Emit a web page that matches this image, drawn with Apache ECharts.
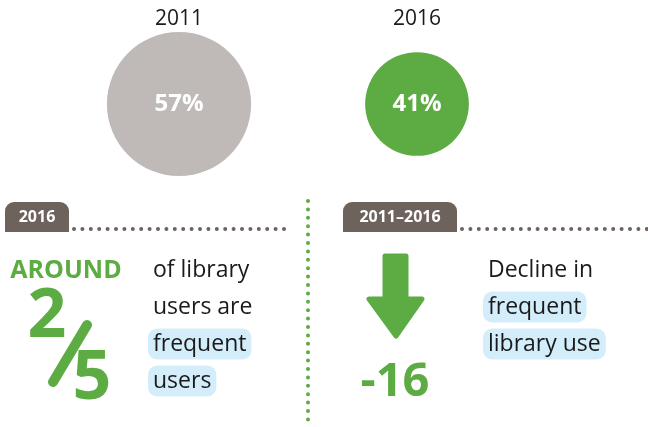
<!DOCTYPE html>
<html>
<head>
<meta charset="utf-8">
<script src="https://cdn.jsdelivr.net/npm/echarts@6/dist/echarts.min.js"></script>
<style>
html, body { margin: 0; padding: 0; background: #fff; }
#chart { width: 648px; height: 427px; }
</style>
</head>
<body>
<div id="chart"></div>
<script>
// 数据
var years = ['2011', '2016'];
var frequentShare = [57, 41];
var circleColors = ['#bfbab7', '#5dab43'];
var fraction = ['2', '5'];
var declinePoints = -16;
var leftTab = '2016';
var rightTab = '2011–2016';
var leftLines = ['of library', 'users are', 'frequent', 'users'];
var rightLines = ['Decline in', 'frequent', 'library use'];

var GREEN = '#5dab43';
var TAB = '#6e625d';
var HILITE = '#d3edfa';
var FONT = '"Open Sans", "DejaVu Sans", sans-serif';

/**
 * 带高亮的正文行
 */
function bodyLine(txt, x, y, hilite) {
	var style = {
		text: txt,
		x: x,
		y: y,
		fill: '#1a1a1a',
		font: '23px ' + FONT,
		verticalAlign: 'middle'
	};
	if (hilite) {
		style.x = x - 5;
		style.backgroundColor = HILITE;
		style.padding = [3, 5, 5, 5];
		style.borderRadius = 9;
	}
	return { type: 'text', style: style };
}

function tab(txt, x, w) {
	return {
		type: 'group',
		children: [
			{ type: 'rect', shape: { x: x, y: 202, width: w, height: 30, r: [9, 9, 0, 0] }, style: { fill: TAB } },
			{ type: 'text', style: { text: txt, x: x + w / 2, y: 217, fill: '#fff', font: 'bold 16px ' + FONT, align: 'center', verticalAlign: 'middle' } }
		]
	};
}

function dotted(x1, y1, x2, y2, color) {
	return {
		type: 'line',
		shape: { x1: x1, y1: y1, x2: x2, y2: y2 },
		style: { stroke: color, lineWidth: 4, lineDash: [0, 8.4], lineCap: 'round' }
	};
}

var graphics = [
	tab(leftTab, 5, 64),
	dotted(74, 229, 284, 229, TAB),
	tab(rightTab, 343, 114),
	dotted(462, 229, 648, 229, TAB),
	dotted(308, 201, 308, 426, GREEN),
	// AROUND 2/5
	{ type: 'text', style: { text: 'AROUND', x: 66, y: 271, fill: GREEN, font: 'bold 25px ' + FONT, align: 'center', verticalAlign: 'middle' } },
	{ type: 'text', style: { text: fraction[0], x: 47, y: 318, fill: GREEN, font: 'bold 68px ' + FONT, align: 'center', verticalAlign: 'middle' } },
	{ type: 'line', shape: { x1: 87, y1: 325, x2: 53, y2: 382 }, style: { stroke: GREEN, lineWidth: 10, lineCap: 'round' } },
	{ type: 'text', style: { text: fraction[1], x: 92, y: 380, fill: GREEN, font: 'bold 68px ' + FONT, align: 'center', verticalAlign: 'middle' } },
	bodyLine(leftLines[0], 153, 270, false),
	bodyLine(leftLines[1], 153, 307, false),
	bodyLine(leftLines[2], 153, 344, true),
	bodyLine(leftLines[3], 153, 381, true),
	// 下降箭头
	{
		type: 'polygon',
		shape: { points: [[385, 256], [406, 256], [406, 299], [422, 299], [396, 336], [369, 299], [385, 299]] },
		style: { fill: GREEN, lineJoin: 'round', stroke: GREEN, lineWidth: 5 }
	},
	{ type: 'text', style: { text: String(declinePoints), x: 395, y: 383, fill: GREEN, font: 'bold 47px ' + FONT, align: 'center', verticalAlign: 'middle' } },
	bodyLine(rightLines[0], 488, 270, false),
	bodyLine(rightLines[1], 488, 307, true),
	bodyLine(rightLines[2], 488, 344, true)
];

var myChart = echarts.init(document.getElementById('chart'));

var option = {
	animation: false,
	grid: { left: 60, width: 476, top: 32, height: 144 },
	xAxis: {
		type: 'category',
		position: 'top',
		data: years,
		axisLine: { show: false },
		axisTick: { show: false },
		axisLabel: { color: '#1a1a1a', fontSize: 21, fontFamily: FONT, margin: 2 }
	},
	yAxis: { type: 'value', min: -1, max: 1, show: false },
	series: [{
		type: 'scatter',
		data: years.map(function(y, i) {
			return { value: [y, 0, frequentShare[i]], itemStyle: { color: circleColors[i], opacity: 1 } };
		}),
		symbolSize: function(d) { return d[2] * 2.53; },
		label: {
			show: true,
			position: 'inside',
			color: '#fff',
			fontSize: 24,
			fontWeight: 'bold',
			fontFamily: FONT,
			formatter: function(p) { return p.value[2] + '%'; }
		}
	}],
	graphic: graphics
};

myChart.setOption(option);
</script>
</body>
</html>
